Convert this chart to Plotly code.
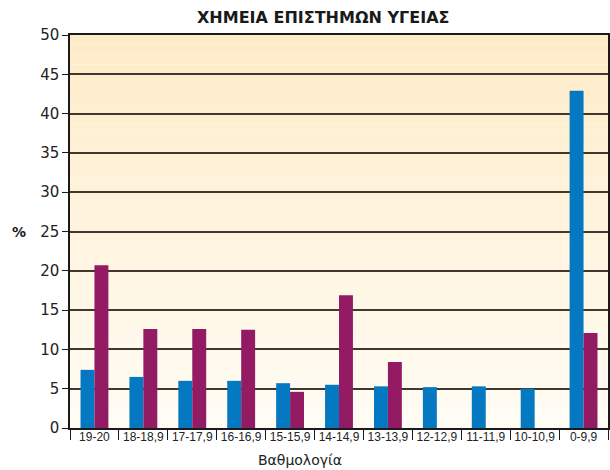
import plotly.graph_objects as go

# ============================ data ============================
categories = ["19-20", "18-18,9", "17-17,9", "16-16,9", "15-15,9", "14-14,9",
              "13-13,9", "12-12,9", "11-11,9", "10-10,9", "0-9,9"]
series_blue = [7.4, 6.5, 6.0, 6.0, 5.7, 5.5, 5.3, 5.2, 5.3, 5.0, 42.9]
series_purple = [20.7, 12.6, 12.6, 12.5, 4.6, 16.9, 8.4, 0, 0, 0, 12.1]
y_ticks = [0, 5, 10, 15, 20, 25, 30, 35, 40, 45, 50]

title_text = "ΧΗΜΕΙΑ ΕΠΙΣΤΗΜΩΝ ΥΓΕΙΑΣ"
x_title = "Βαθμολογία"
y_title = "%"

BLUE = "#0478c1"
PURPLE = "#921b64"
GRID = "#40382f"
FONT = "DejaVu Sans, sans-serif"

fig = go.Figure()
fig.add_trace(go.Bar(x=categories, y=series_blue, marker=dict(color=BLUE, line_width=0)))
fig.add_trace(go.Bar(x=categories, y=series_purple, marker=dict(color=PURPLE, line_width=0)))

# gradient background made of thin bands (below gridlines)
n_bands = 40
top_rgb = (254, 236, 200)
bot_rgb = (255, 252, 244)
shapes = []
for i in range(n_bands):
    t = i / (n_bands - 1)
    c = tuple(round(bot_rgb[k] + (top_rgb[k] - bot_rgb[k]) * t) for k in range(3))
    shapes.append(dict(type="rect", xref="paper", yref="paper",
                       x0=0, x1=1, y0=i / n_bands, y1=(i + 1) / n_bands,
                       fillcolor="rgb(%d,%d,%d)" % c, line_width=0, layer="below"))

fig.update_layout(
    width=610, height=470,
    margin=dict(l=70, r=2, t=35, b=42),
    paper_bgcolor="white",
    plot_bgcolor="white",
    showlegend=False,
    barmode="group",
    bargap=0.43,
    bargroupgap=0,
    shapes=shapes,
    font=dict(family=FONT, color="#222"),
    annotations=[
        dict(text="<b>" + title_text + "</b>", xref="paper", yref="paper",
             x=0.471, y=1.0, yshift=18, showarrow=False, yanchor="middle",
             font=dict(family=FONT, size=16, color="#1a1a1a")),
        dict(text="<b>" + y_title + "</b>", xref="paper", yref="paper", x=-0.095, y=0.5,
             showarrow=False, xanchor="center", yanchor="middle",
             font=dict(family=FONT, size=14, color="#1a1a1a")),
        dict(text=x_title, xref="paper", yref="paper", x=0.427, y=0, yshift=-32,
             showarrow=False, yanchor="middle",
             font=dict(family=FONT, size=14, color="#222")),
    ],
)

fig.update_xaxes(
    type="category", automargin=False,
    showline=True, linecolor="#1a1a1a", linewidth=1.5, mirror=True,
    ticks="outside", ticklen=10, tickcolor="#1a1a1a", tickwidth=1,
    tickson="boundaries", tickangle=0, ticklabelstandoff=-3,
    tickfont=dict(family="Liberation Sans, Arial, sans-serif", size=12, color="#222"),
    showgrid=False,
)
fig.update_yaxes(
    range=[0, 50], tickvals=y_ticks, automargin=False,
    showline=True, linecolor="#1a1a1a", linewidth=1.5, mirror=True,
    ticks="outside", ticklen=6, tickcolor="#1a1a1a",
    tickfont=dict(size=15, color="#222"),
    showgrid=True, gridcolor=GRID, gridwidth=1.5,
    zeroline=False,
)

fig.write_html("out.html", config={"displayModeBar": False},
               post_script="document.body.style.margin='0';")
